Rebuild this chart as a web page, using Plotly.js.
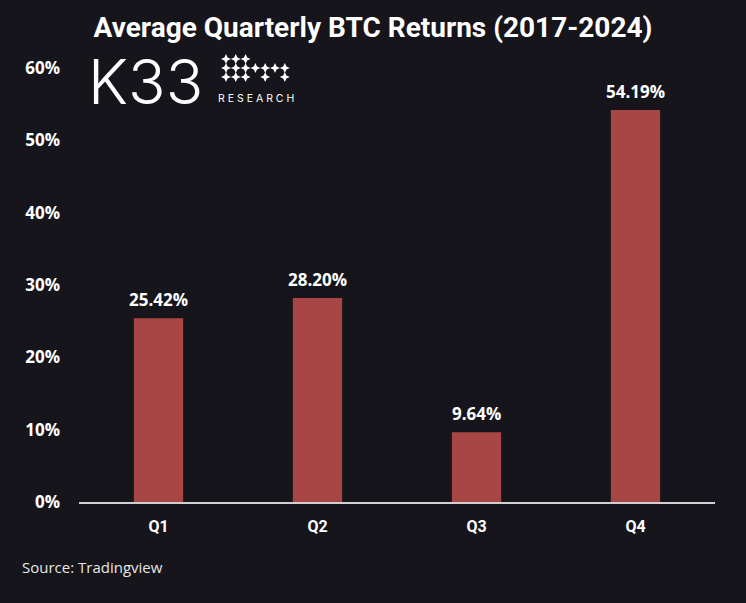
<!DOCTYPE html>
<html>
<head>
<meta charset="utf-8">
<script src="https://cdn.plot.ly/plotly-3.0.1.min.js"></script>
<style>
html,body{margin:0;padding:0;background:#16151b;}
#chart{width:746px;height:603px;}
</style>
</head>
<body>
<div id="chart"></div>
<script>
const quarters = ["Q1", "Q2", "Q3", "Q4"];
const avgReturns = [25.42, 28.20, 9.64, 54.19];
const yTickVals = [0, 10, 20, 30, 40, 50, 60];
const yTickText = ["0%", "10%", "20%", "30%", "40%", "50%", "60%"];

const bg = "#16151b";
const barColor = "#a84545";
const font = "Roboto, 'DejaVu Sans', sans-serif";
const wideFont = "'Open Sans', Roboto, sans-serif";

// plot area geometry (pixels) used only to place the logo decoration
const M = {l: 79, r: 31, t: 68, b: 101};
const PW = 746 - M.l - M.r, PH = 603 - M.t - M.b;
const px = v => (v - M.l) / PW;
const py = v => (603 - M.b - v) / PH;

const trace = {
  type: "bar",
  x: quarters,
  y: avgReturns,
  marker: {color: barColor, line: {width: 0}},
  hoverinfo: "skip"
};

const valueLabels = quarters.map((q, i) => ({
  x: q, y: avgReturns[i], xref: "x", yref: "y",
  text: "<b>" + avgReturns[i].toFixed(2) + "%</b>",
  showarrow: false, yanchor: "bottom", yshift: 5,
  font: {family: wideFont, size: 17, color: "#ffffff"}
}));

// logo decoration: K33 + star grid + RESEARCH
const logoPattern = ["111", "1111111", "1110101"];
const logo = [
  {xref: "paper", yref: "paper", x: px(86), y: py(81), xanchor: "left", yanchor: "middle",
   text: "K33", showarrow: false,
   font: {family: "Inter, Roboto, sans-serif", size: 62, color: "#ffffff", weight: 300}},
  {xref: "paper", yref: "paper", x: px(256), y: py(99), xanchor: "center", yanchor: "middle",
   text: "R E S E A R C H", showarrow: false,
   font: {family: "Inter, Roboto, sans-serif", size: 10.5, color: "#ffffff"}},
  {xref: "paper", yref: "paper", x: px(20), y: py(567), xanchor: "left", yanchor: "middle",
   text: "Source: Tradingview", showarrow: false,
   font: {family: wideFont, size: 15, color: "#e6e6e6"}}
];
const starPath = "M0,5 L1.6,1.6 L5,0 L1.6,-1.6 L0,-5 L-1.6,-1.6 L-5,0 L-1.6,1.6 Z";
const logoShapes = [];
logoPattern.forEach((row, r) => {
  row.split("").forEach((c, k) => {
    if (c === "1") {
      logoShapes.push({type: "path", xref: "paper", yref: "paper",
        xsizemode: "pixel", ysizemode: "pixel",
        xanchor: px(226 + k * 9.8), yanchor: py(59 + r * 9),
        path: starPath, fillcolor: "#ffffff", line: {width: 0}});
    }
  });
});

const layout = {
  width: 746, height: 603,
  paper_bgcolor: bg, plot_bgcolor: bg,
  margin: M,
  title: {text: "<b>Average Quarterly BTC Returns (2017-2024)</b>", x: 0.5, xanchor: "center",
          y: 0.955, yanchor: "middle",
          font: {family: font, size: 28, color: "#ffffff"}},
  bargap: 0.69,
  showlegend: false,
  xaxis: {
    type: "category",
    showgrid: false, zeroline: false,
    showline: true, linecolor: "#cfcfd4", linewidth: 2,
    ticks: "", ticklabelstandoff: 9,
    tickfont: {family: font, size: 16, color: "#ffffff", weight: "bold"}
  },
  yaxis: {
    range: [0, 60],
    tickvals: yTickVals, ticktext: yTickText,
    showgrid: false, zeroline: false, showline: false,
    ticks: "", ticklabelstandoff: 18,
    tickfont: {family: wideFont, size: 17, color: "#ffffff", weight: "bold"}
  },
  shapes: logoShapes,
  annotations: valueLabels.concat(logo)
};

Plotly.newPlot("chart", [trace], layout, {displayModeBar: false, staticPlot: true});
</script>
</body>
</html>
